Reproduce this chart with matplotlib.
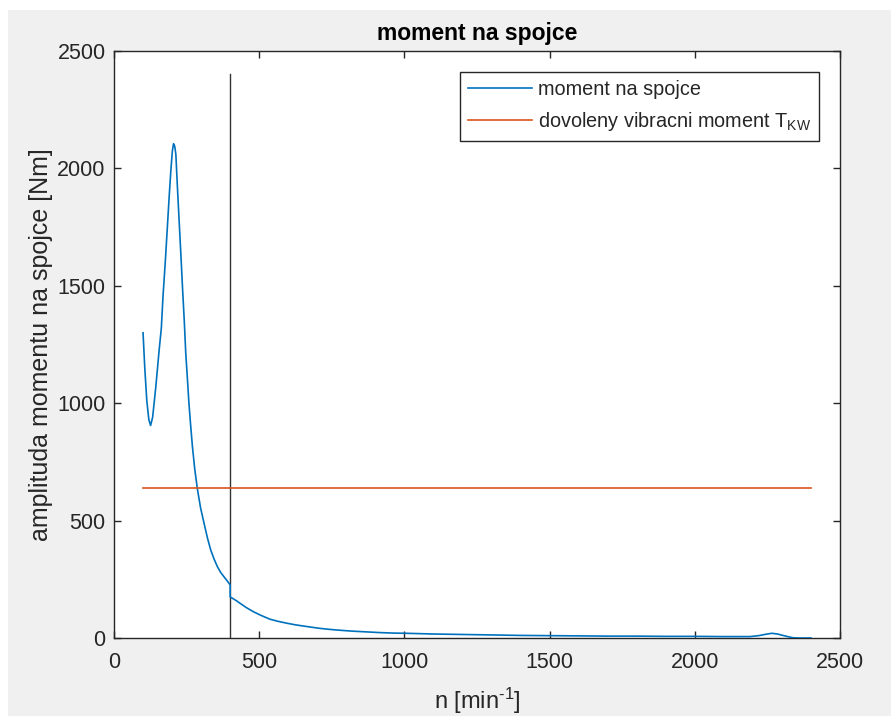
import matplotlib
matplotlib.use("Agg")
import matplotlib.pyplot as plt
from matplotlib.patches import Rectangle

plt.rcParams['font.family'] = ['Liberation Sans', 'DejaVu Sans']
plt.rcParams['mathtext.fontset'] = 'custom'
plt.rcParams['mathtext.rm'] = 'Liberation Sans'
plt.rcParams['mathtext.it'] = 'Liberation Sans'
plt.rcParams['mathtext.bf'] = 'Liberation Sans:bold'

# ---- data ----
n_moment = [100, 106, 113, 120, 126, 133, 144, 155, 163, 169, 177, 184, 190, 196, 201, 205,
            209, 213, 218, 224, 230, 236, 242, 247, 253, 258, 264, 270, 278, 287, 298, 310,
            322, 333, 345, 356, 367, 378, 390, 400,
            400, 420, 434, 455, 480, 505, 537, 565, 595, 625, 652, 680, 709, 740, 767, 800,
            824, 870, 916, 960, 1008, 1100, 1200, 1300, 1400, 1500, 1600, 1700, 1800, 1900,
            2000, 2100, 2190, 2220, 2245, 2265, 2285, 2300, 2320, 2338, 2360, 2400]
m_moment = [1300, 1150, 1010, 930, 905, 940, 1070, 1220, 1320, 1460, 1610, 1755, 1880, 1995, 2075, 2105,
            2095, 2060, 1930, 1783, 1640, 1490, 1350, 1215, 1100, 1000, 905, 816, 720, 636, 555, 489,
            425, 375, 335, 304, 280, 262, 243, 226,
            175, 160, 148, 130, 112, 97, 80, 71, 63, 56, 51, 46, 41, 37, 34, 31,
            29, 26, 23, 21, 20, 17, 15, 13, 11, 10, 9, 8, 8, 7,
            7, 6, 6, 10, 16, 20, 17, 12, 6, 1, 0, 0]

n_limit = [100, 2400]
m_limit = [640, 640]

n_vline = [400, 400]
m_vline = [0, 2400]

xticks = [0, 500, 1000, 1500, 2000, 2500]
yticks = [0, 500, 1000, 1500, 2000, 2500]

# ---- figure ----
W, H = 891, 716
fig = plt.figure(figsize=(W / 100, H / 100), dpi=100, facecolor='white')
fig.patches.append(Rectangle((8 / W, 0), 1 - 8 / W, (H - 10) / H, transform=fig.transFigure,
                             facecolor='#f0f0f0', edgecolor='none', zorder=-10))

left, right, bottom, top = 114 / W, 840 / W, (H - 638) / H, (H - 51) / H
ax = fig.add_axes([left, bottom, right - left, top - bottom])
ax.set_facecolor('white')

blue = '#0072BD'
orange = '#D95319'
axc = '#262626'

l1, = ax.plot(n_moment, m_moment, color=blue, lw=1.2, label='moment na spojce', zorder=3)
l2, = ax.plot(n_limit, m_limit, color=orange, lw=1.2,
              label='dovoleny vibracni moment T$_{\\mathrm{KW}}$', zorder=3)
ax.plot(n_vline, m_vline, color='#333333', lw=1.0, zorder=2)

ax.set_xlim(0, 2500)
ax.set_ylim(0, 2500)
ax.set_xticks(xticks)
ax.set_yticks(yticks)
ax.tick_params(direction='in', length=5, width=1, colors=axc, labelsize=15.5,
               top=True, right=True)
ax.tick_params(axis='x', pad=10)
ax.tick_params(axis='y', pad=6)
for s in ax.spines.values():
    s.set_color(axc)
    s.set_linewidth(1.0)

ax.set_xlabel('n [min$^{\\mathrm{\u2010}1}$]', fontsize=17, color=axc, labelpad=9)
ax.set_ylabel('amplituda momentu na spojce [Nm]', fontsize=18, color=axc, labelpad=3)
ax.set_title('moment na spojce', fontsize=16.5, fontweight='bold', color='black', pad=8)

leg = ax.legend(handles=[l1, l2], loc='upper right', bbox_to_anchor=(819 / W, (H - 72) / H),
                bbox_transform=fig.transFigure, borderaxespad=0, fontsize=14.3,
                frameon=True, fancybox=False, framealpha=1, edgecolor=axc,
                handlelength=3.2, handletextpad=0.3, borderpad=0.42, labelspacing=0.52)
leg.get_frame().set_linewidth(1.0)
for t in leg.get_texts():
    t.set_color(axc)

fig.savefig('out.png', dpi=100, facecolor=fig.get_facecolor())
